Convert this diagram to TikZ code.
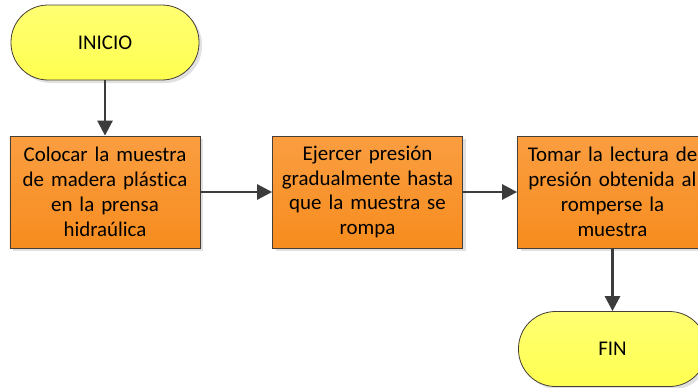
\documentclass[tikz,border=0pt]{standalone}
\usepackage{fontspec}
\setmainfont[Ligatures={NoCommon,NoDiscretionary,NoRare}]{Carlito}
\usetikzlibrary{arrows.meta,shadows}
\definecolor{termfill}{RGB}{255,255,80}
\definecolor{termtop}{RGB}{255,255,115}
\definecolor{procfill}{RGB}{247,140,30}
\definecolor{proctop}{RGB}{250,158,65}
\definecolor{edgecol}{RGB}{70,62,55}
\definecolor{arrowcol}{RGB}{60,60,60}
\definecolor{shadowcol}{RGB}{225,225,225}
\tikzset{
  terminal/.style={draw=edgecol, line width=0.8bp, rounded corners=37bp,
    top color=termtop, bottom color=termfill,
    minimum width=188bp, minimum height=75bp, inner sep=0pt,
    font=\fontsize{21}{25}\selectfont,
    drop shadow={shadow xshift=3bp, shadow yshift=-3bp, fill=shadowcol, opacity=1}},
  procbox/.style={draw=edgecol, line width=0.8bp,
    top color=proctop, bottom color=procfill,
    minimum width=188bp, minimum height=112bp, inner sep=1bp,
    align=center, text width=188bp,
    font=\fontsize{21}{25}\selectfont,
    drop shadow={shadow xshift=3bp, shadow yshift=-3bp, fill=shadowcol, opacity=1}},
  flow/.style={draw=arrowcol, line width=2.7bp,
    -{Triangle[length=15bp,width=15bp]}}
}
\begin{document}
\begin{tikzpicture}[x=1bp,y=-1bp]
\useasboundingbox (0,0) rectangle (698,387);
\node[terminal] (inicio) at (105,42.5) {INICIO};
\node[procbox] (b1) at (105,192) {Colocar la muestra\\de madera plástica\\en la prensa\\hidraúlica};
\node[procbox] (b2) at (367.5,192) {Ejercer presión\\gradualmente hasta\\que la muestra se\\rompa};
\node[procbox] (b3) at (612.5,192) {Tomar la lectura de\\presión obtenida al\\romperse la\\muestra};
\node[terminal] (fin) at (612.5,349) {FIN};
\draw[flow] (inicio) -- (b1);
\draw[flow] (b1) -- (b2);
\draw[flow] (b2) -- (b3);
\draw[flow] (b3) -- (fin);
\end{tikzpicture}
\end{document}
